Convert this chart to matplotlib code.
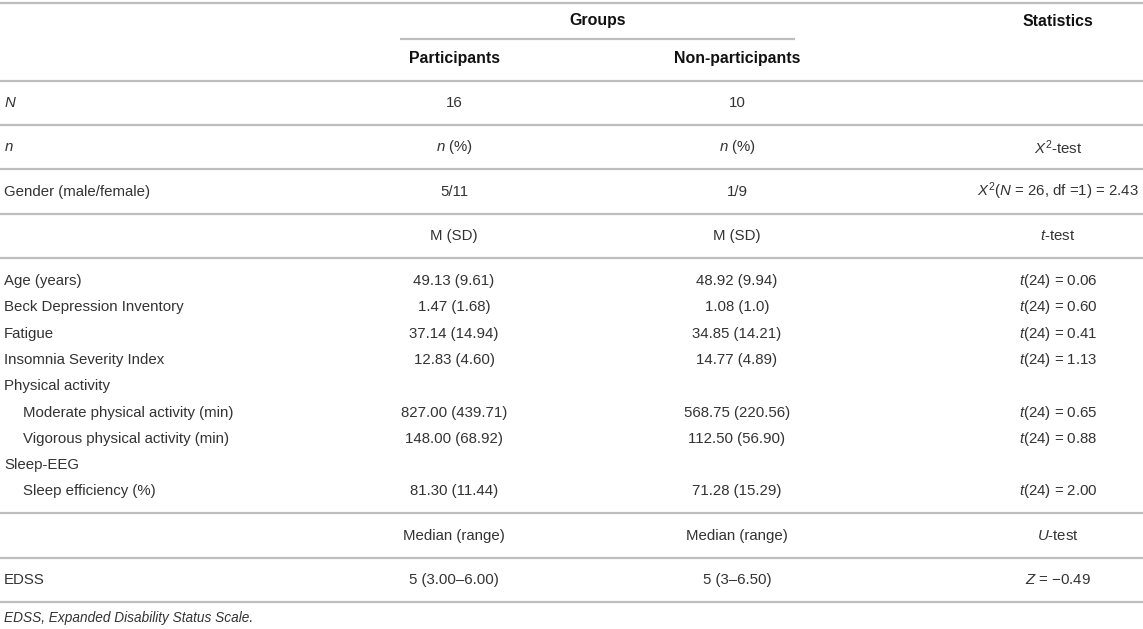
import matplotlib
matplotlib.use('Agg')
import matplotlib.pyplot as plt

plt.rcParams['font.family'] = ['Liberation Sans', 'DejaVu Sans']
plt.rcParams['mathtext.fontset'] = 'custom'
plt.rcParams['mathtext.rm'] = 'Liberation Sans'
plt.rcParams['mathtext.it'] = 'Liberation Sans:italic'

# table contents
group_labels = ['Participants', 'Non-participants']
top_rows = ['$N$', '$n$', 'Gender (male/female)']
top_part = ['16', '$n$ (%)', '5/11']
top_non = ['10', '$n$ (%)', '1/9']
top_stat = ['', '$X^2$-test', '$X^2$($N$ = 26, df =1) = 2.43']

msd_rows = ['Age (years)', 'Beck Depression Inventory', 'Fatigue', 'Insomnia Severity Index',
            'Physical activity', 'Moderate physical activity (min)',
            'Vigorous physical activity (min)', 'Sleep-EEG', 'Sleep efficiency (%)']
msd_indent = [False, False, False, False, False, True, True, False, True]
msd_part = ['49.13 (9.61)', '1.47 (1.68)', '37.14 (14.94)', '12.83 (4.60)', '',
            '827.00 (439.71)', '148.00 (68.92)', '', '81.30 (11.44)']
msd_non = ['48.92 (9.94)', '1.08 (1.0)', '34.85 (14.21)', '14.77 (4.89)', '',
           '568.75 (220.56)', '112.50 (56.90)', '', '71.28 (15.29)']
msd_stat = ['$t$(24) = 0.06', '$t$(24) = 0.60', '$t$(24) = 0.41', '$t$(24) = 1.13', '',
            '$t$(24) = 0.65', '$t$(24) = 0.88', '', '$t$(24) = 2.00']

edss_part = '5 (3.00–6.00)'
edss_non = '5 (3–6.50)'
edss_stat = '$Z$ = −0.49'
footnote = 'EDSS, Expanded Disability Status Scale.'

W, H = 1143, 629
fig = plt.figure(figsize=(W / 100, H / 100), dpi=100)
ax = fig.add_axes([0, 0, 1, 1])
ax.set_xlim(0, W)
ax.set_ylim(H, 0)
ax.axis('off')

txt = '#333333'
rule = '#bdbdbd'
fs = 10.8
x_lab, x_ind = 4, 23
x_p, x_n, x_s = 454, 737, 1058

def cell(x, y, s, ha='center', size=fs, **kw):
    ax.text(x, y, s, ha=ha, va='center', fontsize=size, color=kw.pop('color', txt), **kw)

def hrule(y, x0=0, x1=W):
    ax.plot([x0, x1], [y, y], color=rule, lw=1.6, solid_capstyle='butt')

# header
hb = dict(weight='bold', color='#111111', size=11.4)
hrule(3)
cell((400 + 795) / 2, 21, 'Groups', **hb)
cell(x_s, 21, 'Statistics', **hb)
hrule(39, 400, 795)
cell(x_p, 59, group_labels[0], **hb)
cell(x_n, 59, group_labels[1], **hb)
hrule(81)

y = 103
for lab, p, n, s in zip(top_rows, top_part, top_non, top_stat):
    cell(x_lab, y, lab, ha='left')
    cell(x_p, y, p)
    cell(x_n, y, n)
    cell(x_s, y, s)
    hrule(y + 22)
    y += 44.3

# M (SD) block
cell(x_p, 236, 'M (SD)')
cell(x_n, 236, 'M (SD)')
cell(x_s, 236, '$t$-test')
hrule(258)
y = 281
for lab, ind, p, n, s in zip(msd_rows, msd_indent, msd_part, msd_non, msd_stat):
    cell(x_ind if ind else x_lab, y, lab, ha='left')
    cell(x_p, y, p)
    cell(x_n, y, n)
    cell(x_s, y, s)
    y += 26.3
hrule(513)

cell(x_p, 536, 'Median (range)')
cell(x_n, 536, 'Median (range)')
cell(x_s, 536, '$U$-test')
hrule(558)
cell(x_lab, 580, 'EDSS', ha='left')
cell(x_p, 580, edss_part)
cell(x_n, 580, edss_non)
cell(x_s, 580, edss_stat)
hrule(602)

ax.text(x_lab, 618, footnote, ha='left', va='center', fontsize=9.8,
        style='italic', color=txt)

fig.savefig('out.png', dpi=100)
